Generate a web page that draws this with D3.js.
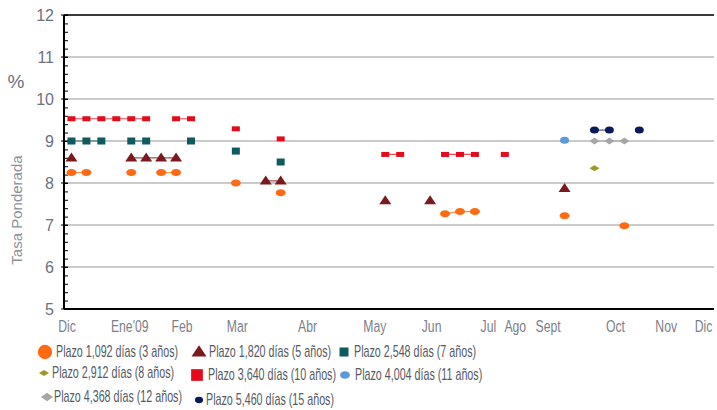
<!DOCTYPE html>
<html lang="es">
<head>
<meta charset="UTF-8">
<title>Tasa Ponderada</title>
<script src="https://d3js.org/d3.v7.min.js"></script>
<style>
  body { margin: 0; background: #fff; }
  svg text { font-family: "Liberation Sans", Arial, sans-serif; }
</style>
</head>
<body>
<div id="chart"></div>
<script>
// auction slots along the x axis (0..38), null = no auction for that term
const slots = d3.range(39);

const months = ["Dic", "Ene'09", "Feb", "Mar", "Abr", "May", "Jun", "Jul", "Ago", "Sept", "Oct", "Nov", "Dic"];
const monthPos = [-0.3, 3.9, 7.4, 11.1, 15.8, 20.3, 24.1, 27.9, 29.7, 31.9, 36.4, 39.8, 42.3];

const yTicks = [5, 6, 7, 8, 9, 10, 11, 12];

function fill(pairs) {
  const a = slots.map(() => null);
  pairs.forEach(([i, v]) => { a[i] = v; });
  return a;
}

const plazo1092 = fill([[0, 8.25], [1, 8.25], [4, 8.25], [6, 8.25], [7, 8.25], [11, 8.0], [14, 7.77],
                        [25, 7.27], [26, 7.32], [27, 7.32], [33, 7.22], [37, 6.98]]);
const plazo1820 = fill([[0, 8.6], [4, 8.6], [5, 8.6], [6, 8.6], [7, 8.6], [13, 8.05], [14, 8.05],
                        [21, 7.58], [24, 7.58], [33, 7.87]]);
const plazo2548 = fill([[0, 9.0], [1, 9.0], [2, 9.0], [4, 9.0], [5, 9.0], [8, 9.0], [11, 8.76], [14, 8.5]]);
const plazo2912 = fill([[35, 8.35]]);
const plazo3640 = fill([[0, 9.53], [1, 9.53], [2, 9.53], [3, 9.53], [4, 9.53], [5, 9.53], [7, 9.53], [8, 9.53],
                        [11, 9.29], [14, 9.05], [21, 8.68], [22, 8.68], [25, 8.68], [26, 8.68], [27, 8.68], [29, 8.68]]);
const plazo4004 = fill([[33, 9.02]]);
const plazo4368 = fill([[35, 9.0], [36, 9.0], [37, 9.0]]);
const plazo5460 = fill([[35, 9.26], [36, 9.26], [38, 9.26]]);

const series = [
  {name: "Plazo 1,092 días (3 años)",  values: plazo1092, color: "#ff6a13", shape: "ellipse", w: 10, h: 7},
  {name: "Plazo 1,820 días (5 años)",  values: plazo1820, color: "#7a1a1f", shape: "triangle", w: 12, h: 9},
  {name: "Plazo 2,548 días (7 años)",  values: plazo2548, color: "#0e5a5e", shape: "rect", w: 8, h: 7},
  {name: "Plazo 2,912 días (8 años)",  values: plazo2912, color: "#9a9a24", shape: "diamond", w: 10, h: 6},
  {name: "Plazo 3,640 días (10 años)", values: plazo3640, color: "#e30b1c", shape: "rect", w: 8, h: 5},
  {name: "Plazo 4,004 días (11 años)", values: plazo4004, color: "#5b9bd5", shape: "ellipse", w: 9, h: 7},
  {name: "Plazo 4,368 días (12 años)", values: plazo4368, color: "#a6a6a6", shape: "diamond", w: 10, h: 7},
  {name: "Plazo 5,460 días (15 años)", values: plazo5460, color: "#0b1a5a", shape: "ellipse", w: 9, h: 7}
];

const W = 717, H = 410;
const margin = {top: 15, right: 3, bottom: 101, left: 64};

const svg = d3.select("#chart").append("svg")
  .attr("width", W).attr("height", H);

const x = d3.scaleLinear().domain([-0.5, 43]).range([margin.left, W - margin.right]);
const y = d3.scaleLinear().domain([5, 12]).range([H - margin.bottom, margin.top]);

// condensed text helper (the original uses a narrow typeface)
function narrowText(parent, tx, ty, str, size, sx, anchor, color) {
  parent.append("text")
    .attr("transform", `translate(${tx},${ty}) scale(${sx},1)`)
    .attr("dy", "0.35em")
    .attr("text-anchor", anchor)
    .style("font-size", size + "px")
    .style("fill", color)
    .text(str);
}

// gridlines
svg.append("g")
  .selectAll("line")
  .data(yTicks.filter(t => t > 5 && t < 12))
  .enter().append("line")
  .attr("x1", x.range()[0]).attr("x2", x.range()[1])
  .attr("y1", d => y(d)).attr("y2", d => y(d))
  .style("stroke", "#b8b8b8").style("stroke-width", 1.5);

// top border
svg.append("line")
  .attr("x1", x.range()[0]).attr("x2", x.range()[1])
  .attr("y1", y(12)).attr("y2", y(12))
  .style("stroke", "#3a3a3a").style("stroke-width", 2);

// left axis with minor ticks
const yAxis = svg.append("g").attr("transform", `translate(${margin.left},0)`);
yAxis.append("g")
  .call(d3.axisRight(y).tickValues(d3.range(5, 12.01, 0.2)).tickSize(4).tickFormat(""))
  .call(g => g.select(".domain").remove())
  .selectAll("line").style("stroke", "#000");
yAxis.append("line")
  .attr("y1", y(12)).attr("y2", y(5))
  .style("stroke", "#000").style("stroke-width", 2);
yAxis.selectAll(".major")
  .data(yTicks)
  .enter().append("line")
  .attr("x1", -3).attr("x2", 4)
  .attr("y1", d => y(d)).attr("y2", d => y(d))
  .style("stroke", "#000");
yAxis.selectAll(".lbl")
  .data(yTicks)
  .enter().append("text")
  .attr("x", -10).attr("y", d => y(d))
  .attr("dy", "0.35em")
  .attr("text-anchor", "end")
  .style("font-size", "16px")
  .style("fill", "#6b7280")
  .text(d => d);

// bottom axis
svg.append("line")
  .attr("x1", x.range()[0]).attr("x2", x.range()[1])
  .attr("y1", y(5)).attr("y2", y(5))
  .style("stroke", "#000").style("stroke-width", 2);

const monthG = svg.append("g");
months.forEach((m, i) => narrowText(monthG, x(monthPos[i]), 326, m, 16.5, 0.74, "middle", "#7a7f8a"));

// axis titles
svg.append("text")
  .attr("x", 16).attr("y", 88)
  .attr("text-anchor", "middle")
  .style("font-size", "19px")
  .style("fill", "#6b7280")
  .text("%");
svg.append("text")
  .attr("transform", "translate(22,210) rotate(-90)")
  .attr("text-anchor", "middle")
  .style("font-size", "15px")
  .style("fill", "#8c919b")
  .text("Tasa Ponderada");

function marker(sel, s, scale) {
  const w = s.w * scale, h = s.h * scale;
  if (s.shape === "ellipse") {
    sel.append("ellipse").attr("rx", w / 2).attr("ry", h / 2).style("fill", s.color);
  } else if (s.shape === "rect") {
    sel.append("rect").attr("x", -w / 2).attr("y", -h / 2).attr("width", w).attr("height", h).style("fill", s.color);
  } else if (s.shape === "triangle") {
    sel.append("path").attr("d", `M0,${-h * 0.6}L${w / 2},${h * 0.4}L${-w / 2},${h * 0.4}Z`).style("fill", s.color);
  } else {
    sel.append("path").attr("d", `M0,${-h / 2}L${w / 2},0L0,${h / 2}L${-w / 2},0Z`).style("fill", s.color);
  }
}

// series: lines between consecutive auctions, then markers
const line = d3.line()
  .defined(d => d != null)
  .x((d, i) => x(slots[i]))
  .y(d => y(d));

series.forEach(s => {
  svg.append("path")
    .datum(s.values)
    .attr("d", line)
    .style("fill", "none")
    .style("stroke", s.color)
    .style("stroke-width", 1.2)
    .style("opacity", 0.75);
  svg.append("g")
    .selectAll("g")
    .data(s.values.map((v, i) => ({i, v})).filter(d => d.v != null))
    .enter().append("g")
    .attr("transform", d => `translate(${x(slots[d.i])},${y(d.v)})`)
    .each(function () { marker(d3.select(this), s, 1); });
});

// legend
const legendPos = [
  [45, 352, 56], [199, 352, 209], [344, 352, 354],
  [44, 373, 52], [197, 375, 208], [345, 375, 355],
  [47, 397, 54], [199, 400, 206]
];
const legendScale = [1.3, 1.25, 1, 1, 1.3, 1.1, 1.2, 0.9];
const legend = svg.append("g");
series.forEach((s, i) => {
  const [mx, my, tx] = legendPos[i];
  const g = legend.append("g");
  const m = g.append("g").attr("transform", `translate(${mx},${my})`);
  const ls = Object.assign({}, s, s.shape === "rect" ? {w: 9, h: 9} : {});
  if (i === 0) Object.assign(ls, {w: 11, h: 11});
  marker(m, ls, legendScale[i]);
  narrowText(g, tx, my - 1, s.name, 16, 0.67, "start", "#555a63");
});
</script>
</body>
</html>
